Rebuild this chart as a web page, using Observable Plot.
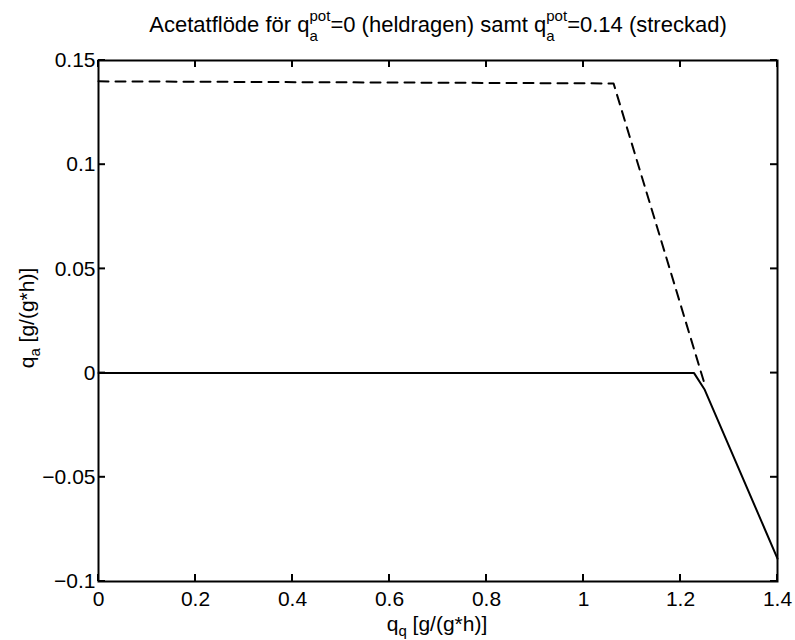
<!DOCTYPE html>
<html>
<head>
<meta charset="utf-8">
<script src="https://cdn.jsdelivr.net/npm/d3@7"></script>
<script src="https://cdn.jsdelivr.net/npm/@observablehq/plot@0.6"></script>
<style>
  body { margin: 0; background: #fff; }
  svg { font-family: "Liberation Sans", Arial, sans-serif; }
</style>
</head>
<body>
<div id="chart"></div>
<script>
// Solid line: q_a^pot = 0
const solidX = [0, 1.228, 1.25, 1.4];
const solidY = [0, 0, -0.008, -0.089];
// Dashed line: q_a^pot = 0.14
const dashedX = [0, 1.062, 1.252];
const dashedY = [0.14, 0.139, -0.007];

const xTicks = [0, 0.2, 0.4, 0.6, 0.8, 1, 1.2, 1.4];
const yTicks = [-0.1, -0.05, 0, 0.05, 0.1, 0.15];

const solid = solidX.map((x, i) => ({x, y: solidY[i]}));
const dashed = dashedX.map((x, i) => ({x, y: dashedY[i]}));

const W = 795, H = 640, ML = 98, MR = 18, MT = 60, MB = 59;
const TS = 7;

const plot = Plot.plot({
  width: W,
  height: H,
  marginLeft: ML,
  marginRight: MR,
  marginTop: MT,
  marginBottom: MB,
  style: {fontSize: "21px", fontFamily: "Liberation Sans, Arial, sans-serif", color: "#000", background: "#fff"},
  x: {domain: [0, 1.4]},
  y: {domain: [-0.1, 0.15]},
  marks: [
    Plot.line(solid, {x: "x", y: "y", stroke: "#000", strokeWidth: 2}),
    Plot.line(dashed, {x: "x", y: "y", stroke: "#000", strokeWidth: 2, strokeDasharray: "10,7"}),
    Plot.axisX(xTicks, {anchor: "bottom", tickSize: 0, tickPadding: 10, label: null, tickFormat: d => String(d), fontSize: 21}),
    Plot.axisY(yTicks, {anchor: "left", tickSize: 0, tickPadding: 3, label: null, tickFormat: d => (d < 0 ? "\u2212" : "") + String(Math.abs(d)), fontSize: 21}),
    Plot.frame({stroke: "#000", strokeWidth: 2})
  ]
});

const svg = d3.select(plot);
const sx = plot.scale("x"), sy = plot.scale("y");
const x0 = sx.range[0], x1 = sx.range[1];
const y0 = sy.range[0], y1 = sy.range[1];
const tickG = svg.append("g").attr("stroke", "#000").attr("stroke-width", 2);
for (const v of xTicks) {
  const px = sx.apply(v);
  tickG.append("line").attr("x1", px).attr("x2", px).attr("y1", y0).attr("y2", y0 - TS);
  tickG.append("line").attr("x1", px).attr("x2", px).attr("y1", y1).attr("y2", y1 + TS);
}
for (const v of yTicks) {
  const py = sy.apply(v);
  tickG.append("line").attr("y1", py).attr("y2", py).attr("x1", x0).attr("x2", x0 + TS);
  tickG.append("line").attr("y1", py).attr("y2", py).attr("x1", x1).attr("x2", x1 - TS);
}

// Title with stacked super/subscripts
const subSize = 15;
const potW = 20.9, aW = 8.3;
const title = svg.append("text")
  .attr("x", 438).attr("y", 32)
  .attr("text-anchor", "middle")
  .attr("font-size", 22)
  .attr("fill", "#000");
title.append("tspan").text("Acetatflöde för q");
title.append("tspan").attr("font-size", subSize).attr("dy", -11).text("pot");
title.append("tspan").attr("font-size", subSize).attr("dx", -potW).attr("dy", 20).text("a");
title.append("tspan").attr("dx", potW - aW).attr("dy", -9).text("=0 (heldragen) samt q");
title.append("tspan").attr("font-size", subSize).attr("dy", -11).text("pot");
title.append("tspan").attr("font-size", subSize).attr("dx", -potW).attr("dy", 20).text("a");
title.append("tspan").attr("dx", potW - aW).attr("dy", -9).text("=0.14 (streckad)");

// X label
const xl = svg.append("text")
  .attr("x", 437).attr("y", 631)
  .attr("text-anchor", "middle")
  .attr("font-size", 21).attr("fill", "#000");
xl.append("tspan").text("q");
xl.append("tspan").attr("font-size", subSize).attr("dy", 5).text("q");
xl.append("tspan").attr("dy", -5).text(" [g/(g*h)]");

// Y label
const yl = svg.append("text")
  .attr("transform", "translate(34,318) rotate(-90)")
  .attr("text-anchor", "middle")
  .attr("font-size", 21).attr("fill", "#000");
yl.append("tspan").text("q");
yl.append("tspan").attr("font-size", subSize).attr("dy", 6).text("a");
yl.append("tspan").attr("dy", -6).text(" [g/(g*h)]");

document.getElementById("chart").appendChild(plot);
</script>
</body>
</html>
